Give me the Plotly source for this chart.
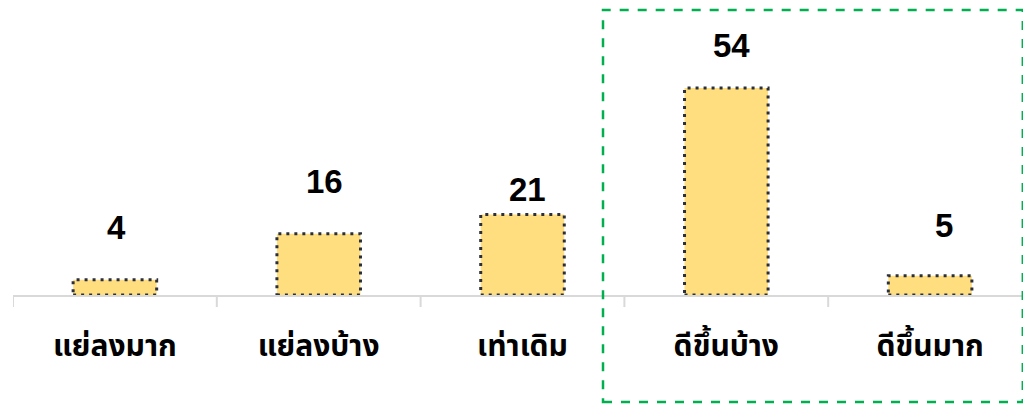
import plotly.graph_objects as go

categories = ["แย่ลงมาก", "แย่ลงบ้าง", "เท่าเดิม", "ดีขึ้นบ้าง", "ดีขึ้นมาก"]
values = [4, 16, 21, 54, 5]
label_dy = [52, 52, 25, 43, 50]   # px from bar top to label centre
label_dx = [2, 6, 5, 5, 14]       # px horizontal nudge of value labels

BAR_FILL = "#FFDE80"
BORDER = "#2B2F3A"
HALF = 0.205

fig = go.Figure()
fig.add_trace(go.Bar(
    x=list(range(len(categories))), y=values, width=2 * HALF,
    marker=dict(color=BAR_FILL, line=dict(width=0)),
    hoverinfo="skip", showlegend=False,
))

shapes = []
for i, v in enumerate(values):
    shapes.append(dict(type="rect", xref="x", yref="y", x0=i - HALF, x1=i + HALF,
                       y0=0, y1=v, line=dict(color=BORDER, width=3, dash="3px,5px"),
                       fillcolor="rgba(0,0,0,0)", layer="above"))
# green dashed highlight box
shapes.append(dict(type="rect", xref="paper", yref="paper", x0=0.579, x1=0.991,
                   y0=-0.373, y1=0.993,
                   line=dict(color="#00B050", width=2.5, dash="dash")))

annotations = []
for i, (v, dy, dx) in enumerate(zip(values, label_dy, label_dx)):
    annotations.append(dict(x=i, y=v, xref="x", yref="y", text=f"<b>{v}</b>",
                            showarrow=False, yanchor="middle", yshift=dy, xshift=dx,
                            font=dict(size=33, color="#000000",
                                      family="Liberation Sans, Arial, sans-serif")))

fig.update_layout(
    width=1031, height=405,
    margin=dict(l=5, r=7, t=0, b=118, autoexpand=False),
    paper_bgcolor="white", plot_bgcolor="white",
    shapes=shapes, annotations=annotations,
    xaxis=dict(
        tickmode="array", tickvals=list(range(len(categories))),
        ticktext=[f"<b>{c}</b>" for c in categories],
        range=[-0.5, len(categories) - 0.5],
        showline=True, linecolor="#D9D9D9", linewidth=2,
        showgrid=False, zeroline=False, automargin=False,
        ticks="", tickfont=dict(size=30, color="#000000",
                                family="Noto Sans Thai, Tahoma, Noto Sans, sans-serif"),
        ticklabelstandoff=23,
    ),
    yaxis=dict(range=[0, 74.9], visible=False, showgrid=False, zeroline=False,
               automargin=False),
)

# category boundary tick marks
for b in range(len(categories) + 1):
    fig.add_shape(type="line", xref="x", yref="paper", x0=b - 0.5, x1=b - 0.5,
                  y0=0, y1=-0.042, line=dict(color="#D9D9D9", width=2))

fig.write_html("out.html")
